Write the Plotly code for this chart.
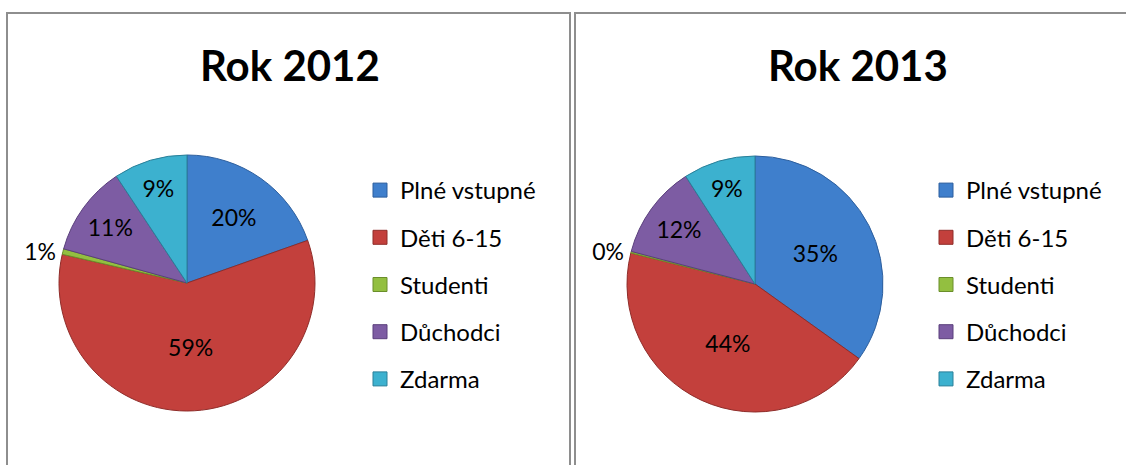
"""Two pie charts of visitor ticket mix, 2012 vs 2013."""

import plotly.graph_objects as go

CATEGORIES = ["Plné vstupné", "Děti 6-15", "Studenti", "Důchodci", "Zdarma"]
YEARS = ["Rok 2012", "Rok 2013"]
SHARES_2012 = [19.6, 59.0, 0.7, 11.4, 9.3]
SHARES_2013 = [34.9, 44.0, 0.2, 11.8, 9.1]

_SLICE_COLORS = ["#3f7fcc", "#c3403c", "#93bf40", "#7d5ca3", "#3cb1cf"]
_EDGE_COLORS = ["#2d5f9e", "#8f2c29", "#6a8e2a", "#5a3f7c", "#2a8099"]
_TEXT_POSITIONS = ["inside", "inside", "outside", "inside", "inside"]

_FONT = "Lato"
_W, _H = 1126, 465

# pie domains in pixels (left, right, top, bottom)
_PIE_BOXES = [(59, 315, 155, 411), (627, 883, 156, 412)]
_TITLE_X = [290, 858]
_LEGEND_X = [360, 926]
_PANELS = [(7, 570), (575, 1200)]


def _px_x(px: float) -> float:
    return px / _W


def _px_y(px: float) -> float:
    return 1 - px / _H


fig = go.Figure()

for index, (shares, box) in enumerate(zip((SHARES_2012, SHARES_2013), _PIE_BOXES)):
    left, right, top, bottom = box
    fig.add_trace(
        go.Pie(
            labels=CATEGORIES,
            values=shares,
            sort=False,
            direction="clockwise",
            rotation=0,
            domain={"x": [_px_x(left), _px_x(right)], "y": [_px_y(bottom), _px_y(top)]},
            marker={"colors": _SLICE_COLORS, "line": {"color": _EDGE_COLORS, "width": 1}},
            texttemplate="%{percent:.0%}",
            textposition=_TEXT_POSITIONS,
            insidetextorientation="horizontal",
            textfont={"family": _FONT, "size": 23, "color": "black"},
            showlegend=False,
            hoverinfo="label+percent",
        )
    )

    legend_name = "legend" if index == 0 else "legend2"
    for label, color, edge in zip(CATEGORIES, _SLICE_COLORS, _EDGE_COLORS):
        fig.add_trace(
            go.Scatter(
                x=[None],
                y=[None],
                mode="markers",
                name=label,
                legend=legend_name,
                legendgroup=f"{legend_name}-{label}",
                marker={"symbol": "square", "size": 14, "color": color,
                        "line": {"color": edge, "width": 1}},
            )
        )

legend_common = dict(
    font={"family": _FONT, "size": 24, "color": "black"},
    bgcolor="rgba(0,0,0,0)",
    xanchor="left",
    yanchor="top",
    y=_px_y(168),
    tracegroupgap=13,
    itemclick=False,
)

shapes = [
    dict(type="rect", xref="paper", yref="paper",
         x0=_px_x(x0), x1=_px_x(x1), y0=-0.1, y1=_px_y(13),
         line={"color": "#8e8e8e", "width": 2}, fillcolor="rgba(0,0,0,0)")
    for x0, x1 in _PANELS
]

annotations = [
    dict(text=title, x=_px_x(cx), y=_px_y(65), xref="paper", yref="paper",
         xanchor="center", yanchor="middle", showarrow=False,
         font={"family": _FONT, "size": 42, "color": "black", "weight": "bold"})
    for title, cx in zip(YEARS, _TITLE_X)
]

fig.update_layout(
    width=_W,
    height=_H,
    margin=dict(l=0, r=0, t=0, b=0),
    paper_bgcolor="white",
    plot_bgcolor="white",
    xaxis={"visible": False, "domain": [0, 0.01]},
    yaxis={"visible": False, "domain": [0, 0.01]},
    legend={**legend_common, "x": _px_x(_LEGEND_X[0])},
    legend2={**legend_common, "x": _px_x(_LEGEND_X[1])},
    shapes=shapes,
    annotations=annotations,
    uniformtext={"minsize": 23, "mode": "show"},
)

# drop the page's default body margin so the figure sits at the window corner
fig.write_html(
    "out.html",
    config={"displayModeBar": False},
    post_script="document.body.style.margin = '0';",
)
